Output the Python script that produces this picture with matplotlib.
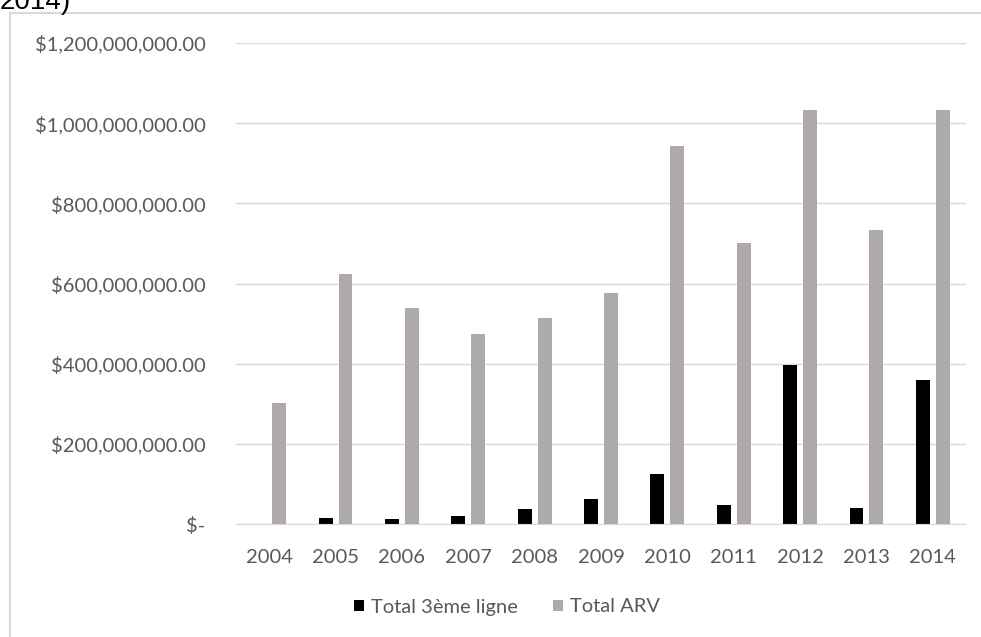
import numpy as np
import matplotlib.pyplot as plt
from matplotlib.lines import Line2D
from matplotlib.ticker import FuncFormatter

years = ['2004', '2005', '2006', '2007', '2008', '2009', '2010', '2011', '2012', '2013', '2014']
# montants en millions de $
total_3eme = [0, 15.7, 12.4, 19, 37, 63, 125, 47, 397, 41, 359]
total_arv = [303, 623, 539, 475, 515, 576, 943, 700, 1034, 734, 1034]
yticks = [0, 200, 400, 600, 800, 1000, 1200]

txt_col = '#595959'
grid_col = '#d9d9d9'
plt.rcParams['font.family'] = ['Lato', 'DejaVu Sans']

fig = plt.figure(figsize=(9.81, 6.37), dpi=100)
fig.patch.set_facecolor('white')
W, H = 981, 637
ax = fig.add_axes([236 / W, (H - 524) / H, (966 - 236) / W, (524 - 43) / H])

x = np.arange(len(years))
w = 0.21
off = 0.15
ax.bar(x - off, np.array(total_3eme) * 1e6, width=w, color='black', label='Total 3ème ligne', zorder=3)
ax.bar(x + off, np.array(total_arv) * 1e6, width=w, color='#aeaaaa', label='Total ARV', zorder=3)

def money(v, pos):
    if v == 0:
        return '$-'
    return '${:,.2f}'.format(v)

ax.set_xlim(-0.5, len(years) - 0.5)
ax.set_ylim(0, 1.2e9)
ax.set_yticks(np.array(yticks) * 1e6)
ax.yaxis.set_major_formatter(FuncFormatter(money))
ax.set_xticks(x)
ax.set_xticklabels(years)
ax.tick_params(axis='y', length=0, pad=22, labelsize=14.5, labelcolor=txt_col)
ax.tick_params(axis='x', length=0, pad=18, labelsize=14.5, labelcolor=txt_col)
ax.grid(axis='y', color=grid_col, linewidth=1, zorder=0)
for s in ['top', 'right', 'left']:
    ax.spines[s].set_visible(False)
ax.spines['bottom'].set_color(grid_col)
ax.spines['bottom'].set_zorder(4)

leg = fig.legend(loc='center', bbox_to_anchor=(507 / W, (H - 607) / H), ncol=2, frameon=False,
                 handlelength=0.5, handleheight=0.5, handletextpad=0.35, columnspacing=1.7,
                 fontsize=14.5)
for t in leg.get_texts():
    t.set_color(txt_col)

# cadre du graphique
fig.add_artist(Line2D([9.5 / W, 9.5 / W], [0, (H - 13) / H], color=grid_col, linewidth=1.5))
fig.add_artist(Line2D([9.5 / W, 1], [(H - 13) / H, (H - 13) / H], color=grid_col, linewidth=1.5))

# titre coupé
fig.text(0, (H - 9) / H, '2014)', fontsize=20, family='Liberation Sans', va='baseline', ha='left')

fig.savefig('out.png', dpi=100)
